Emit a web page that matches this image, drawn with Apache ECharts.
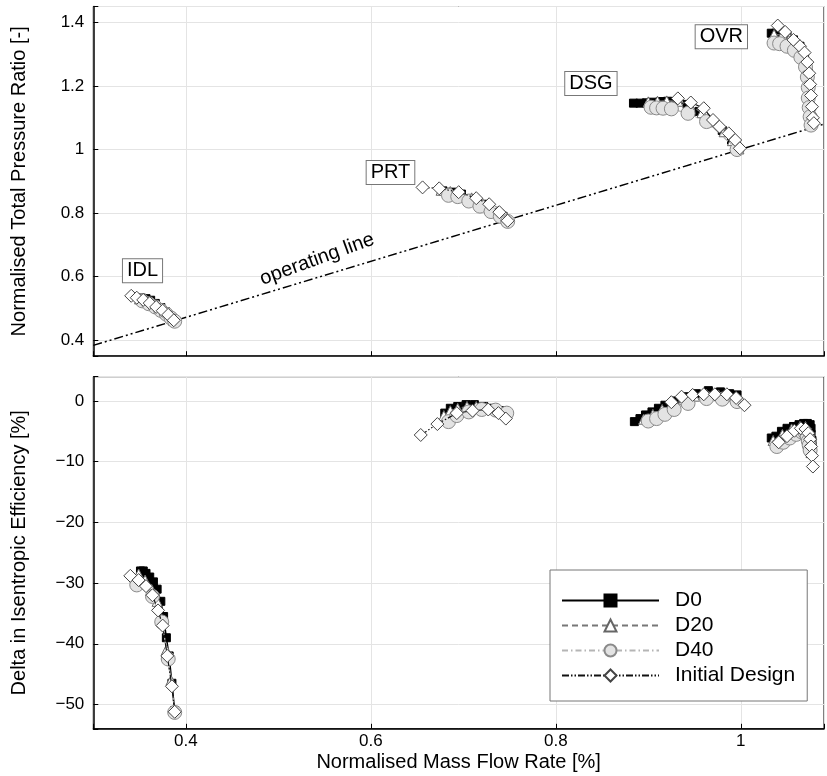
<!DOCTYPE html>
<html><head><meta charset="utf-8">
<script src="https://cdn.jsdelivr.net/npm/echarts@6/dist/echarts.min.js"></script>
<style>html,body{margin:0;padding:0;background:#fff}#c{width:827px;height:776px}</style>
</head><body><div id="c"></div>
<script>
// ---------- Normalised total pressure ratio (top) ----------
const d0PrIDL = [[0.352,0.533],[0.357,0.531],[0.362,0.526],[0.367,0.516],[0.373,0.503],[0.378,0.490],[0.383,0.476],[0.387,0.462]];
const d0PrPRT = [[0.678,0.870],[0.688,0.866],[0.698,0.860],[0.710,0.846],[0.722,0.828],[0.734,0.806],[0.743,0.790],[0.748,0.774]];
const d0PrDSG = [[0.884,1.146],[0.891,1.146],[0.898,1.147],[0.905,1.149],[0.913,1.151],[0.921,1.152],[0.930,1.151],[0.942,1.142],[0.955,1.120],[0.968,1.090],[0.980,1.060],[0.990,1.030],[0.998,1.002]];
const d0PrOVR = [[1.033,1.366],[1.038,1.366],[1.043,1.364],[1.050,1.358],[1.057,1.345],[1.064,1.325],[1.069,1.300],[1.072,1.270],[1.073,1.240],[1.074,1.205],[1.074,1.170],[1.075,1.135],[1.075,1.105],[1.076,1.080]];

const d20PrIDL = [[0.350,0.530],[0.356,0.527],[0.362,0.520],[0.368,0.509],[0.374,0.497],[0.379,0.485],[0.384,0.472],[0.387,0.462]];
const d20PrPRT = [[0.676,0.872],[0.686,0.868],[0.697,0.861],[0.709,0.848],[0.721,0.830],[0.733,0.808],[0.742,0.791],[0.748,0.775]];
const d20PrDSG = [[0.900,1.150],[0.910,1.152],[0.920,1.153],[0.932,1.152],[0.945,1.140],[0.958,1.116],[0.970,1.087],[0.982,1.056],[0.991,1.028],[0.998,1.002]];
const d20PrOVR = [[1.036,1.362],[1.045,1.360],[1.053,1.350],[1.061,1.332],[1.067,1.308],[1.071,1.278],[1.073,1.245],[1.074,1.210],[1.074,1.175],[1.075,1.140],[1.075,1.108],[1.076,1.080]];

const d40PrIDL = [[0.353,0.524],[0.360,0.515],[0.367,0.505],[0.373,0.494],[0.379,0.482],[0.384,0.470],[0.388,0.460]];
const d40PrPRT = [[0.684,0.856],[0.694,0.852],[0.706,0.838],[0.718,0.822],[0.730,0.805],[0.740,0.790],[0.748,0.774]];
const d40PrDSG = [[0.903,1.133],[0.909,1.131],[0.916,1.130],[0.925,1.128],[0.943,1.114],[0.963,1.088],[0.996,1.000]];
const d40PrOVR = [[1.036,1.335],[1.042,1.333],[1.050,1.325],[1.058,1.312],[1.065,1.290],[1.070,1.260],[1.072,1.228],[1.073,1.195],[1.073,1.162],[1.074,1.132],[1.075,1.103],[1.076,1.077]];

const initPrIDL = [[0.341,0.540],[0.347,0.534],[0.354,0.527],[0.361,0.517],[0.368,0.505],[0.375,0.493],[0.381,0.480],[0.387,0.463]];
const initPrPRT = [[0.656,0.881],[0.674,0.878],[0.695,0.866],[0.714,0.847],[0.728,0.828],[0.739,0.803],[0.748,0.776]];
const initPrDSG = [[0.932,1.161],[0.946,1.148],[0.960,1.130],[0.970,1.093],[0.977,1.072],[0.987,1.051],[0.994,1.030],[0.999,1.004]];
const initPrOVR = [[1.040,1.390],[1.048,1.370],[1.057,1.345],[1.064,1.325],[1.069,1.305],[1.072,1.275],[1.074,1.240],[1.075,1.205],[1.076,1.170],[1.077,1.135],[1.078,1.100],[1.079,1.083]];

// ---------- Delta in isentropic efficiency (bottom) ----------
const d0EfIDL = [[0.351,-28.0],[0.354,-28.0],[0.357,-28.4],[0.361,-29.0],[0.365,-29.8],[0.369,-31.0],[0.373,-33.0],[0.376,-35.5],[0.379,-39.0],[0.382,-42.0],[0.385,-46.5],[0.388,-51.0]];
const d0EfPRT = [[0.680,-2.0],[0.686,-1.2],[0.694,-0.9],[0.703,-0.6],[0.712,-0.6],[0.722,-0.9],[0.733,-1.2],[0.742,-1.6],[0.748,-2.0]];
const d0EfDSG = [[0.885,-3.4],[0.891,-2.9],[0.897,-2.3],[0.904,-1.8],[0.911,-1.2],[0.918,-0.7],[0.928,0.0],[0.940,0.7],[0.952,1.2],[0.965,1.7],[0.978,1.5],[0.988,1.2],[0.996,1.0]];
const d0EfOVR = [[1.033,-6.1],[1.038,-5.8],[1.044,-5.0],[1.050,-4.5],[1.057,-4.2],[1.063,-3.9],[1.068,-3.7],[1.072,-3.7],[1.075,-3.9],[1.076,-4.5],[1.076,-5.5],[1.077,-6.5],[1.077,-7.5]];

const d20EfIDL = [[0.349,-28.5],[0.356,-29.5],[0.363,-31.0],[0.369,-33.0],[0.374,-36.0],[0.379,-41.0],[0.384,-46.0],[0.388,-51.0]];
const d20EfPRT = [[0.679,-2.4],[0.686,-1.6],[0.694,-1.2],[0.704,-0.9],[0.714,-0.9],[0.725,-1.1],[0.736,-1.5],[0.746,-2.2]];
const d20EfDSG = [[0.895,-3.0],[0.905,-2.2],[0.915,-1.4],[0.926,-0.6],[0.938,0.2],[0.950,0.8],[0.963,1.1],[0.976,1.0],[0.988,0.8],[0.997,0.5]];
const d20EfOVR = [[1.035,-6.5],[1.045,-5.5],[1.055,-4.6],[1.064,-4.2],[1.070,-4.2],[1.073,-4.8],[1.074,-5.8],[1.075,-6.8],[1.076,-7.8],[1.076,-8.5]];

const d40EfIDL = [[0.347,-30.3],[0.364,-32.2],[0.374,-36.4],[0.381,-42.5],[0.388,-51.3]];
const d40EfPRT = [[0.684,-3.4],[0.693,-2.4],[0.706,-1.8],[0.720,-1.4],[0.735,-1.5],[0.747,-2.0]];
const d40EfDSG = [[0.900,-3.3],[0.909,-2.9],[0.918,-2.2],[0.928,-1.4],[0.943,-0.4],[0.963,0.4],[0.980,0.3],[0.996,-0.1]];
const d40EfOVR = [[1.039,-7.5],[1.046,-6.8],[1.053,-6.1],[1.060,-5.5],[1.066,-5.1],[1.070,-5.3],[1.072,-5.9],[1.073,-6.6],[1.074,-7.3],[1.075,-8.1]];

const initEfIDL = [[0.340,-28.8],[0.349,-29.5],[0.357,-30.5],[0.364,-32.0],[0.370,-34.5],[0.375,-37.0],[0.380,-42.0],[0.385,-47.0],[0.388,-51.2]];
const initEfPRT = [[0.654,-5.6],[0.672,-3.8],[0.693,-2.0],[0.710,-1.6],[0.727,-1.4],[0.738,-2.0],[0.746,-2.9]];
const initEfDSG = [[0.925,-0.2],[0.936,0.7],[0.948,1.0],[0.960,1.1],[0.972,1.1],[0.985,1.1],[0.995,0.5],[1.004,-0.7]];
const initEfOVR = [[1.041,-6.8],[1.050,-5.8],[1.058,-4.9],[1.065,-4.5],[1.070,-4.6],[1.073,-5.3],[1.075,-6.3],[1.076,-7.5],[1.077,-9.0],[1.078,-10.8]];

// operating line and annotations (data coordinates)
const opLine = [[0.3,0.384],[1.09,1.080]];
const pointNames = ['IDL','PRT','DSG','OVR'];
const pointLabelAt = [[0.3532,0.619],[0.6213,0.928],[0.838,1.208],[0.979,1.355]];
const opLineLabel = 'operating line';
const opLineLabelAt = [0.542,0.655];
const seriesNames = ['D0','D20','D40','Initial Design'];

const GAP = ['-','-'];
function join(...parts){ const out=[]; parts.forEach((p,i)=>{ if(i) out.push(GAP); p.forEach(q=>out.push(q)); }); return out; }

const FONT = 'Liberation Sans, Arial, Helvetica, sans-serif';
const styles = [
  {symbol:'rect', symbolSize:8, item:{color:'#000',borderColor:'#000',borderWidth:1}, line:{color:'#000',width:1.5,type:'solid'}},
  {symbol:'triangle', symbolSize:10, item:{color:'#fff',borderColor:'#666',borderWidth:1}, line:{color:'#777',width:1.2,type:[6,4]}},
  {symbol:'circle', symbolSize:14, item:{color:'#e3e3e3',borderColor:'#8a8a8a',borderWidth:1}, line:{color:'#b5b5b5',width:1.2,type:[6,3,1.5,3]}},
  {symbol:'diamond', symbolSize:13, item:{color:'#fff',borderColor:'#444',borderWidth:1}, line:{color:'#111',width:1.2,type:[7,2,1.5,2,1.5,2]}}
];
const topData = [
  join(d0PrIDL,d0PrPRT,d0PrDSG,d0PrOVR),
  join(d20PrIDL,d20PrPRT,d20PrDSG,d20PrOVR),
  join(d40PrIDL,d40PrPRT,d40PrDSG,d40PrOVR),
  join(initPrIDL,initPrPRT,initPrDSG,initPrOVR)
];
const botData = [
  join(d0EfIDL,d0EfPRT,d0EfDSG,d0EfOVR),
  join(d20EfIDL,d20EfPRT,d20EfDSG,d20EfOVR),
  join(d40EfIDL,d40EfPRT,d40EfDSG,d40EfOVR),
  join(initEfIDL,initEfPRT,initEfDSG,initEfOVR)
];

function mkSeries(data, gi){
  return data.map((d,i)=>({
    name: seriesNames[i], type:'line', xAxisIndex:gi, yAxisIndex:gi, data:d,
    symbol: styles[i].symbol, symbolSize: styles[i].symbolSize, showAllSymbol:true,
    connectNulls:false, itemStyle: styles[i].item, lineStyle: styles[i].line,
    z: 3+i, silent:true, animation:false
  }));
}

const isMult = (v,s)=>Math.abs(v/s-Math.round(v/s))<1e-6;
const fmtDec = v => String(+v.toFixed(2));

function xAxis(gi){
  const a = {
    type:'value', gridIndex:gi, min:0.3, max:1.09,
    axisLine:{show:true,onZero:false,lineStyle:{color:'#000',width:1.5}},
    axisTick:{show:true,inside:true,length:5,lineStyle:{color:'#000',width:1}},
    splitLine:{show:true,lineStyle:{color:'#e4e4e4',width:1}},
    axisLabel:{show:gi===1,fontSize:17,color:'#000',fontFamily:FONT,margin:4,
      formatter:v=>isMult(v,0.2)?fmtDec(v):''}
  };
  if(gi===1){ a.name='Normalised Mass Flow Rate [%]'; a.nameLocation='middle'; a.nameGap=24;
    a.nameTextStyle={fontSize:20,color:'#000',fontFamily:FONT}; }
  return a;
}
function yAxis(gi){
  const top = gi===0;
  return {
    type:'value', gridIndex:gi, min: top?0.35:-54, max: top?1.45:4,
    name: top?'Normalised Total Pressure Ratio [-]':'Delta in Isentropic Efficiency [%]',
    nameLocation:'middle', nameGap:64, nameTextStyle:{fontSize:20,color:'#000',fontFamily:FONT},
    axisLine:{show:true,onZero:false,lineStyle:{color:'#000',width:1.5}},
    axisTick:{show:true,inside:true,length:5,lineStyle:{color:'#000',width:1}},
    splitLine:{show:true,lineStyle:{color:'#e4e4e4',width:1}},
    axisLabel:{fontSize:17,color:'#000',fontFamily:FONT,margin:9,
      formatter: top ? (v=>isMult(v,0.2)?fmtDec(v):'') : (v=>isMult(v,10)?String(Math.round(v)).replace('-','\u2212'):'')}
  };
}

const chart = echarts.init(document.getElementById('c'), null, {renderer:'canvas'});
chart.setOption({
  backgroundColor:'#fff',
  animation:false,
  grid:[
    {left:93.3, top:6.5, right:3, height:349.7, show:true, borderColor:'#000', borderWidth:1, backgroundColor:'transparent', outerBoundsMode:'none'},
    {left:93.3, top:376.7, right:3, height:352.1, show:true, borderColor:'#000', borderWidth:1, backgroundColor:'transparent', outerBoundsMode:'none'}
  ],
  xAxis:[xAxis(0), xAxis(1)],
  yAxis:[yAxis(0), yAxis(1)],
  legend:{
    data: seriesNames, orient:'vertical', left:550, top:570,
    itemWidth:97, itemHeight:15, itemGap:4,
    padding:[20,12,15,11],
    backgroundColor:'#fff', borderColor:'#777', borderWidth:1,
    textStyle:{fontSize:21,color:'#000',fontFamily:FONT,padding:[0,0,0,11],lineHeight:21},
    selectedMode:false
  },
  series:[
    {name:'op', type:'line', xAxisIndex:0, yAxisIndex:0, data:opLine, symbol:'none',
     lineStyle:{color:'#000',width:1.5,type:[9,3,2,3,2,3]}, z:2, silent:true},
    ...mkSeries(topData,0),
    ...mkSeries(botData,1),
    {name:'labels', type:'scatter', xAxisIndex:0, yAxisIndex:0, symbolSize:1, itemStyle:{color:'rgba(0,0,0,0)'}, z:20, silent:true,
     data: pointLabelAt.map((p,i)=>({value:p, name:pointNames[i]})),
     label:{show:true, position:'inside', formatter:'{b}', fontSize:20, color:'#000', opacity:1, textBorderWidth:0, fontFamily:FONT,
       backgroundColor:'#fff', borderColor:'#777', borderWidth:1, padding:[2,4,0,4], lineHeight:21}},
    {name:'oplabel', type:'scatter', xAxisIndex:0, yAxisIndex:0, symbolSize:1, itemStyle:{color:'rgba(0,0,0,0)'}, z:20, silent:true,
     data:[{value:opLineLabelAt, name:opLineLabel}],
     label:{show:true, position:'inside', formatter:'{b}', fontSize:20, color:'#000', opacity:1, textBorderWidth:0, fontFamily:FONT, rotate:20}}
  ]
});
</script></body></html>
